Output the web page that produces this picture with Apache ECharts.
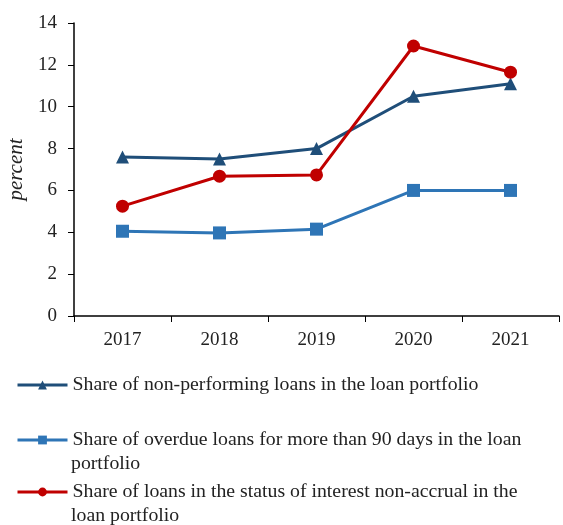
<!DOCTYPE html>
<html>
<head>
<meta charset="utf-8">
<script src="https://cdn.jsdelivr.net/npm/echarts@6/dist/echarts.min.js"></script>
<style>
  * { margin: 0; padding: 0; }
  body { background: #fff; }
</style>
</head>
<body>
<!-- chart container -->
<div id="main" style="width: 563px; height: 525px"></div>
<script>
// data
var years = ["2017", "2018", "2019", "2020", "2021"];
var nonPerforming = [7.6, 7.5, 8.0, 10.5, 11.1];
var overdue90 = [4.05, 3.97, 4.15, 6.0, 6.0];
var nonAccrual = [5.25, 6.68, 6.74, 12.9, 11.65];
var seriesNames = [
  "Share of non-performing loans in the loan portfolio",
  "Share of overdue loans for more than 90 days in the loan",
  "Share of loans in the status of interest non-accrual in the"
];
var wrapLines = ["portfolio", "loan portfolio"];

var font = "Liberation Serif";
var chart = echarts.init(document.getElementById("main"));

function legendAt(name, top) {
  return {
    data: [name],
    left: 16,
    top: top,
    padding: 0,
    orient: "vertical",
    itemWidth: 50,
    itemHeight: 11,
    itemGap: 0,
    selectedMode: false,
    lineStyle: { width: 3 },
    textStyle: { fontFamily: font, fontSize: 19.8, color: "#222" },
  };
}

chart.setOption({
  animation: false,
  color: ["#1F4E79", "#2E75B6", "#C00000"],
  grid: { left: 74, right: 4, top: 23, bottom: 209, containLabel: false, outerBoundsMode: "none" },
  legend: [
    legendAt(seriesNames[0], 375),
    legendAt(seriesNames[1], 430),
    legendAt(seriesNames[2], 482),
  ],
  graphic: [
    { type: "text", left: 71, top: 454, style: { text: wrapLines[0], font: "19.8px " + font, fill: "#222" } },
    { type: "text", left: 71, top: 506, style: { text: wrapLines[1], font: "19.8px " + font, fill: "#222" } },
  ],
  xAxis: {
    type: "category",
    data: years,
    boundaryGap: true,
    axisLine: { lineStyle: { color: "#000", width: 1.5 } },
    axisTick: { show: true, length: 6, lineStyle: { color: "#000" } },
    axisLabel: { fontFamily: font, fontSize: 19, color: "#222", margin: 15 },
  },
  yAxis: {
    type: "value",
    min: 0,
    max: 14,
    interval: 2,
    name: "percent",
    nameLocation: "middle",
    nameGap: 46,
    nameTextStyle: { fontFamily: font, fontSize: 21, fontStyle: "italic", color: "#222" },
    axisLine: { show: true, lineStyle: { color: "#000", width: 1.5 } },
    axisTick: { show: true, length: 6, lineStyle: { color: "#000" } },
    axisLabel: { fontFamily: font, fontSize: 19, color: "#222", margin: 17 },
    splitLine: { show: false },
  },
  series: [
    {
      name: seriesNames[0],
      type: "line",
      data: nonPerforming,
      symbol: "triangle",
      symbolSize: 13,
      lineStyle: { width: 3 },
    },
    {
      name: seriesNames[1],
      type: "line",
      data: overdue90,
      symbol: "rect",
      symbolSize: 13,
      lineStyle: { width: 3 },
    },
    {
      name: seriesNames[2],
      type: "line",
      data: nonAccrual,
      symbol: "circle",
      symbolSize: 13,
      lineStyle: { width: 3 },
    },
  ],
});
</script>
</body>
</html>
